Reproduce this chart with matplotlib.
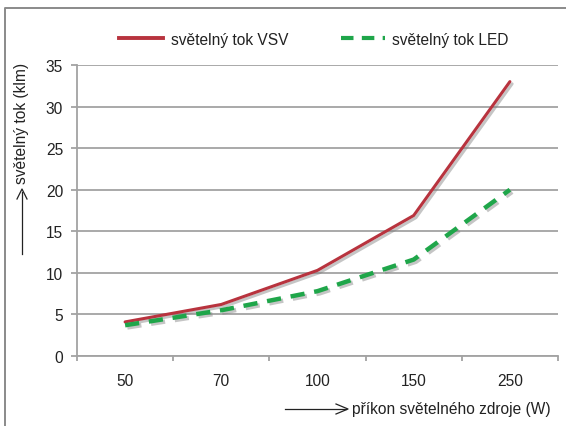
import matplotlib
matplotlib.use("Agg")
import matplotlib.pyplot as plt
import matplotlib.patheffects as pe
from matplotlib.lines import Line2D
from matplotlib.ticker import FixedLocator, NullFormatter, FixedFormatter

plt.rcParams["font.family"] = ["Liberation Sans", "DejaVu Sans"]

# příkon zdroje (W) a světelný tok (klm)
categories = ["50", "70", "100", "150", "250"]
vsv_flux = [4.1, 6.2, 10.3, 16.9, 33.0]
led_flux = [3.7, 5.5, 7.8, 11.6, 20.0]
y_ticks = [0, 5, 10, 15, 20, 25, 30, 35]

GRID = "#a3a3a3"
TEXT = "#222222"
RED = "#b8333e"
GREEN = "#1fa64a"
FS = 11.2

fig = plt.figure(figsize=(5.66, 4.27), dpi=100)
W, H = 566, 427


def fx(px):
    return px / W


def fy(py):
    return 1 - py / H


ax = fig.add_axes([fx(77), fy(357), fx(558) - fx(77), fy(66) - fy(357)])

x = list(range(len(categories)))
shadow = [pe.SimpleLineShadow(offset=(1.6, -1.6), shadow_color="#808080", alpha=0.45),
          pe.Normal()]
ax.plot(x, vsv_flux, color=RED, lw=2.2, solid_capstyle="round",
        path_effects=shadow, zorder=3)
ax.plot(x, led_flux, color=GREEN, lw=3.2, dashes=(3.2, 2.2),
        path_effects=shadow, zorder=3)

ax.set_xlim(-0.5, len(categories) - 0.5)
ax.set_ylim(0, 35)
ax.set_yticks(y_ticks)
ax.yaxis.grid(True, color=GRID, lw=1.3)
ax.set_axisbelow(True)

# category labels sit between the boundary tick marks
ax.xaxis.set_major_locator(FixedLocator([i - 0.5 for i in range(len(categories) + 1)]))
ax.xaxis.set_major_formatter(NullFormatter())
ax.xaxis.set_minor_locator(FixedLocator(x))
ax.xaxis.set_minor_formatter(FixedFormatter(categories))
ax.tick_params(axis="x", which="major", length=3.5, width=1.3, color=GRID)
ax.tick_params(axis="x", which="minor", length=0, pad=12.5, labelsize=FS, labelcolor=TEXT)
ax.tick_params(axis="y", length=4, width=1.3, color=GRID, pad=6, labelsize=FS,
               labelcolor=TEXT)

for side in ("top", "right"):
    ax.spines[side].set_visible(False)
for side in ("left", "bottom"):
    ax.spines[side].set_color(GRID)
    ax.spines[side].set_linewidth(1.3)

handles = [Line2D([], [], color=RED, lw=2.8),
           Line2D([], [], color=GREEN, lw=3.0, dashes=(3.0, 2.0))]
fig.legend(handles, ["světelný tok VSV", "světelný tok LED"], ncol=2, frameon=False,
           loc="center", bbox_to_anchor=(fx(314), fy(40)), fontsize=FS,
           handlelength=2.8, handletextpad=0.5, columnspacing=3.4, labelcolor=TEXT)

# axis titles with leading arrows
fig.text(fx(22), fy(123), "světelný tok (klm)", rotation=90, ha="center", va="center",
         fontsize=FS, color=TEXT)
fig.add_artist(plt.Line2D([fx(22), fx(22)], [fy(255), fy(193)], color=TEXT, lw=0.9))
fig.add_artist(plt.Line2D([fx(17), fx(22), fx(27)], [fy(200), fy(190), fy(200)],
                          color=TEXT, lw=0.9))
fig.text(fx(352), fy(410), "příkon světelného zdroje (W)", ha="left", va="center",
         fontsize=FS, color=TEXT)
fig.add_artist(plt.Line2D([fx(285), fx(346)], [fy(410), fy(410)], color=TEXT, lw=0.9))
fig.add_artist(plt.Line2D([fx(336), fx(348), fx(336)], [fy(405), fy(410), fy(415)],
                          color=TEXT, lw=0.9))

# outer frame (left and top edges only)
fig.add_artist(plt.Line2D([fx(5), fx(5), fx(566)], [fy(427), fy(9), fy(9)],
                          color="#8a8a8a", lw=1.4))

fig.savefig("out.png", dpi=100)
